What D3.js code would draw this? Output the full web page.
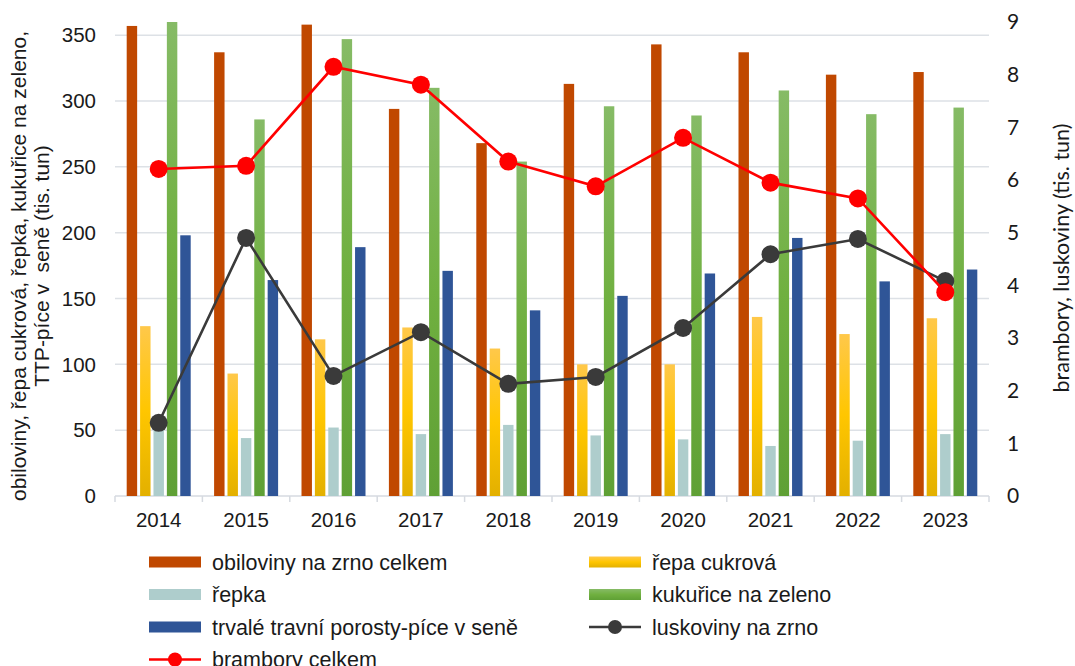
<!DOCTYPE html>
<html>
<head>
<meta charset="utf-8">
<script src="https://cdn.jsdelivr.net/npm/d3@7"></script>
<style>
  body { margin: 0; background: #fff; }
  svg text { font-family: Arial, "Liberation Sans", sans-serif; fill: #1a1a1a; }
</style>
</head>
<body>
<div id="chart"></div>
<script>
// values
var years = ['2014', '2015', '2016', '2017', '2018', '2019', '2020', '2021', '2022', '2023'];
var obiloviny = [357, 337, 358, 294, 268, 313, 343, 337, 320, 322];
var repaCukrova = [129, 93, 119, 128, 112, 100, 100, 136, 123, 135];
var repka = [52, 44, 52, 47, 54, 46, 43, 38, 42, 47];
var kukurice = [360, 286, 347, 310, 254, 296, 289, 308, 290, 295];
var ttp = [198, 164, 189, 171, 141, 152, 169, 196, 163, 172];
var luskoviny = [1.39, 4.9, 2.28, 3.11, 2.13, 2.26, 3.19, 4.59, 4.88, 4.08];
var brambory = [6.21, 6.27, 8.15, 7.81, 6.35, 5.88, 6.8, 5.95, 5.65, 3.87];
var leftTicks = [0, 50, 100, 150, 200, 250, 300, 350];
var rightTicks = [0, 1, 2, 3, 4, 5, 6, 7, 8, 9];

var barSeries = [
  {name: 'obiloviny na zrno celkem', values: obiloviny, fill: '#c04800'},
  {name: 'řepa cukrová', values: repaCukrova, fill: 'url(#gYellow)'},
  {name: 'řepka', values: repka, fill: '#aecdcc'},
  {name: 'kukuřice na zeleno', values: kukurice, fill: 'url(#gGreen)'},
  {name: 'trvalé travní porosty-píce v seně', values: ttp, fill: '#2f5597'}
];
var lineSeries = [
  {name: 'luskoviny na zrno', values: luskoviny, color: '#3a3a3a'},
  {name: 'brambory celkem', values: brambory, color: '#ff0000'}
];

var width = 1075, height = 666;
var plotL = 115, plotR = 989, plotT = 22, plotB = 496;

var svg = d3.select('#chart').append('svg')
    .attr('width', width)
    .attr('height', height);

var defs = svg.append('defs');
var gy = defs.append('linearGradient').attr('id', 'gYellow').attr('x1', 0).attr('y1', 0).attr('x2', 0).attr('y2', 1);
gy.append('stop').attr('offset', '0%').attr('stop-color', '#ffc84a');
gy.append('stop').attr('offset', '50%').attr('stop-color', '#ffc600');
gy.append('stop').attr('offset', '100%').attr('stop-color', '#e3b000');
var gg = defs.append('linearGradient').attr('id', 'gGreen').attr('x1', 0).attr('y1', 0).attr('x2', 0).attr('y2', 1);
gg.append('stop').attr('offset', '0%').attr('stop-color', '#86bb66');
gg.append('stop').attr('offset', '50%').attr('stop-color', '#70b040');
gg.append('stop').attr('offset', '100%').attr('stop-color', '#5fa035');
defs.append('clipPath').attr('id', 'plotClip')
  .append('rect').attr('x', plotL).attr('y', plotT).attr('width', plotR - plotL).attr('height', plotB - plotT);

var x0 = d3.scaleBand().domain(years).range([plotL, plotR]);
var groupPad = 11.7;
var x1 = d3.scaleBand().domain(d3.range(barSeries.length))
    .range([groupPad, x0.bandwidth() - groupPad])
    .paddingInner(0.22);
var yL = d3.scaleLinear().domain([0, 360]).range([plotB, plotT]);
var yR = d3.scaleLinear().domain([0, 9]).range([plotB, plotT]);

// gridlines
svg.append('g')
  .selectAll('line')
  .data(leftTicks.slice(1))
  .enter().append('line')
  .attr('x1', plotL).attr('x2', plotR)
  .attr('y1', function(d) { return yL(d); })
  .attr('y2', function(d) { return yL(d); })
  .attr('stroke', '#dde1e6')
  .attr('stroke-width', 1.5);

// bottom axis line + category ticks
svg.append('line')
  .attr('x1', plotL).attr('x2', plotR)
  .attr('y1', plotB).attr('y2', plotB)
  .attr('stroke', '#d6dae0').attr('stroke-width', 1.5);
svg.append('g')
  .selectAll('line')
  .data(years.concat(['end']))
  .enter().append('line')
  .attr('x1', function(d, i) { return plotL + i * x0.step(); })
  .attr('x2', function(d, i) { return plotL + i * x0.step(); })
  .attr('y1', plotB).attr('y2', plotB + 6)
  .attr('stroke', '#d6dae0').attr('stroke-width', 1.5);

// bars
var bars = svg.append('g').attr('clip-path', 'url(#plotClip)');
barSeries.forEach(function(s, si) {
  bars.append('g')
    .selectAll('rect')
    .data(s.values)
    .enter().append('rect')
    .attr('x', function(d, i) { return x0(years[i]) + x1(si); })
    .attr('y', function(d) { return yL(d); })
    .attr('width', x1.bandwidth())
    .attr('height', function(d) { return plotB - yL(d); })
    .attr('fill', s.fill);
});

// lines
var line = d3.line()
  .x(function(d, i) { return x0(years[i]) + x0.bandwidth() / 2; })
  .y(function(d) { return yR(d); });
lineSeries.forEach(function(s) {
  var g = svg.append('g');
  g.append('path')
    .datum(s.values)
    .attr('d', line)
    .attr('fill', 'none')
    .attr('stroke', s.color)
    .attr('stroke-width', 2.6);
  g.selectAll('circle')
    .data(s.values)
    .enter().append('circle')
    .attr('cx', function(d, i) { return x0(years[i]) + x0.bandwidth() / 2; })
    .attr('cy', function(d) { return yR(d); })
    .attr('r', 9)
    .attr('fill', s.color);
});

// axis labels
svg.append('g')
  .selectAll('text')
  .data(leftTicks)
  .enter().append('text')
  .attr('x', 96)
  .attr('y', function(d) { return yL(d); })
  .attr('dy', '0.35em')
  .attr('text-anchor', 'end')
  .style('font-size', '20.5px')
  .text(function(d) { return d; });

svg.append('g')
  .selectAll('text')
  .data(rightTicks)
  .enter().append('text')
  .attr('x', 1007)
  .attr('y', function(d) { return yR(d); })
  .attr('dy', '0.35em')
  .style('font-family', 'Lato, "Open Sans", sans-serif')
  .style('font-size', '21px')
  .text(function(d) { return d; });

svg.append('g')
  .selectAll('text')
  .data(years)
  .enter().append('text')
  .attr('x', function(d) { return x0(d) + x0.bandwidth() / 2; })
  .attr('y', 520)
  .attr('dy', '0.35em')
  .attr('text-anchor', 'middle')
  .style('font-size', '20.5px')
  .text(function(d) { return d; });

// axis titles
var lt = svg.append('text')
  .attr('transform', 'translate(26,266) rotate(-90)')
  .attr('text-anchor', 'middle')
  .attr('xml:space', 'preserve')
  .style('white-space', 'pre')
  .style('font-size', '21px');
lt.append('tspan').attr('x', 0).attr('dy', 0).text('obiloviny, řepa cukrová, řepka, kukuřice na zeleno,');
lt.append('tspan').attr('x', 0).attr('dy', 23).text('TTP-píce v  seně (tis. tun)');

svg.append('text')
  .attr('transform', 'translate(1069,258) rotate(-90)')
  .attr('text-anchor', 'middle')
  .style('font-family', 'Lato, "Open Sans", sans-serif')
  .style('font-size', '21.5px')
  .text('brambory, luskoviny (tis. tun)');

// legend
var legendItems = [
  {s: barSeries[0], type: 'bar', col: 0, row: 0},
  {s: barSeries[1], type: 'bar', col: 1, row: 0},
  {s: barSeries[2], type: 'bar', col: 0, row: 1},
  {s: barSeries[3], type: 'bar', col: 1, row: 1},
  {s: barSeries[4], type: 'bar', col: 0, row: 2},
  {s: lineSeries[0], type: 'line', col: 1, row: 2},
  {s: lineSeries[1], type: 'line', col: 0, row: 3}
];
var legend = svg.append('g');
var lg = legend.selectAll('g')
  .data(legendItems)
  .enter().append('g')
  .attr('transform', function(d) { return 'translate(' + (149 + d.col * 440) + ',' + (562 + d.row * 32.5) + ')'; });
lg.filter(function(d) { return d.type === 'bar'; })
  .append('rect')
  .attr('x', 0).attr('y', -5.5)
  .attr('width', 52).attr('height', 11)
  .attr('fill', function(d) { return d.s.fill; });
lg.filter(function(d) { return d.type === 'line'; })
  .append('line')
  .attr('x1', 0).attr('x2', 52).attr('y1', 0).attr('y2', 0)
  .attr('stroke', function(d) { return d.s.color; })
  .attr('stroke-width', 2.6);
lg.filter(function(d) { return d.type === 'line'; })
  .append('circle')
  .attr('cx', 26).attr('cy', 0).attr('r', 7)
  .attr('fill', function(d) { return d.s.color; });
lg.append('text')
  .attr('x', 63).attr('y', 0).attr('dy', '0.35em')
  .style('font-size', '21.5px')
  .text(function(d) { return d.s.name; });
</script>
</body>
</html>
